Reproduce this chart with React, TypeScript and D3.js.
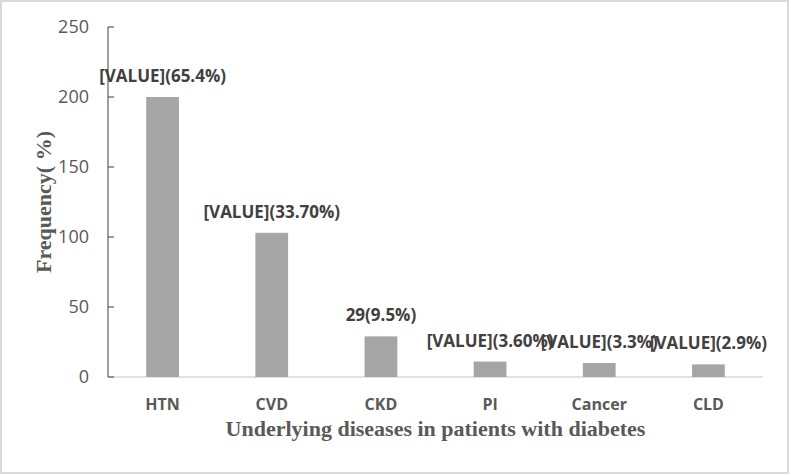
import React from "react";
import * as d3 from "d3";

const categories = ["HTN", "CVD", "CKD", "PI", "Cancer", "CLD"];
const values = [200, 103, 29, 11, 10, 9];
const labels = ["[VALUE](65.4%)", "[VALUE](33.70%)", "29(9.5%)", "[VALUE](3.60%)", "[VALUE](3.3%)", "[VALUE](2.9%)"];
const yTicks = [0, 50, 100, 150, 200, 250];

const W = 789;
const H = 474;
const left = 108;
const right = 763;
const top = 27;
const bottom = 377;

export default function App() {
  const x = d3.scaleBand<string>().domain(categories).range([left, right]).paddingInner(0.7).paddingOuter(0.35);
  const y = d3.scaleLinear().domain([0, 250]).range([bottom, top]);
  const sans = "'Open Sans', sans-serif";
  const serif = "'Liberation Serif', 'Times New Roman', serif";
  return (
    <div style={{ position: "absolute", left: 0, top: 0 }}>
      <svg width={W} height={H} style={{ display: "block" }}>
        <rect x={0} y={0} width={W} height={H} fill="#ffffff" />
        <rect x={1} y={1} width={W - 2} height={H - 2} fill="none" stroke="#d9d9d9" strokeWidth={2} />
        <line x1={left} x2={right} y1={y(0)} y2={y(0)} stroke="#d9d9d9" strokeWidth={1.5} />
        {categories.map((c, i) => (
          <rect key={c} x={x(c)} y={y(values[i])} width={x.bandwidth()} height={y(0) - y(values[i])} fill="#a5a5a5" />
        ))}
        <line x1={left} x2={left} y1={y(250)} y2={y(0)} stroke="#404040" strokeWidth={1} />
        {yTicks.map((t) => (
          <g key={t}>
            <line x1={left} x2={left + 6} y1={y(t)} y2={y(t)} stroke="#404040" strokeWidth={1} />
            <text x={left - 19} y={y(t)} dy="0.36em" textAnchor="end" fontFamily={sans} fontSize={18} fill="#595959">
              {t}
            </text>
          </g>
        ))}
        {categories.map((c, i) => (
          <text key={c + "l"} x={(x(c) as number) + x.bandwidth() / 2} y={y(values[i]) - 15} textAnchor="middle" fontFamily={sans} fontWeight={700} fontSize={17} fill="#404040">
            {labels[i]}
          </text>
        ))}
        {categories.map((c) => (
          <text key={c + "c"} x={(x(c) as number) + x.bandwidth() / 2} y={410} textAnchor="middle" fontFamily={sans} fontWeight={700} fontSize={16} fill="#595959">
            {c}
          </text>
        ))}
        <text x={(left + right) / 2} y={436} textAnchor="middle" fontFamily={serif} fontWeight={700} fontSize={22} fill="#595959">
          Underlying diseases in patients with diabetes
        </text>
        <text transform={`translate(51,202) rotate(-90)`} textAnchor="middle" fontFamily={serif} fontWeight={700} fontSize={22} fill="#595959">
          Frequency( %)
        </text>
      </svg>
    </div>
  );
}
